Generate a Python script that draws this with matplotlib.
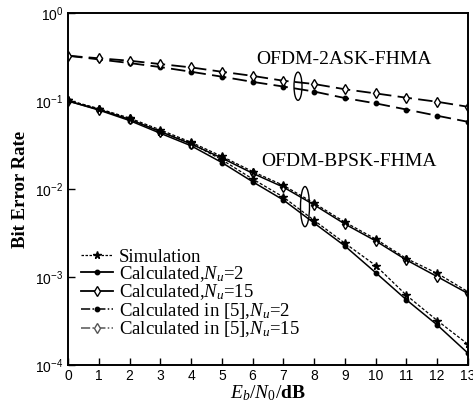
import numpy as np
import matplotlib
matplotlib.use("Agg")
import matplotlib.pyplot as plt
from matplotlib.patches import Ellipse
from matplotlib.lines import Line2D

plt.rcParams["font.family"] = "Liberation Sans"
plt.rcParams["mathtext.fontset"] = "custom"
plt.rcParams["mathtext.rm"] = "Liberation Serif"
plt.rcParams["mathtext.it"] = "Liberation Serif:italic"
plt.rcParams["mathtext.bf"] = "Liberation Serif:bold"

# Eb/N0 (dB)
snr = np.arange(0, 14)

# OFDM-BPSK-FHMA
bpsk_calc_nu2 = [0.100, 0.079, 0.060, 0.043, 0.031, 0.020, 0.0121, 0.0075, 0.0041, 0.00225, 0.00112, 0.00055, 0.000285, 0.000136]
bpsk_sim_nu2 = [0.102, 0.081, 0.062, 0.045, 0.033, 0.0215, 0.0130, 0.0081, 0.0044, 0.00242, 0.00135, 0.00062, 0.00032, 0.000172]
bpsk_calc_nu15 = [0.100, 0.080, 0.062, 0.045, 0.0325, 0.0225, 0.0151, 0.0105, 0.0066, 0.0040, 0.00257, 0.00156, 0.00101, 0.00065]
bpsk_sim_nu15 = [0.102, 0.082, 0.064, 0.047, 0.034, 0.0235, 0.0158, 0.0110, 0.0069, 0.0042, 0.00270, 0.00162, 0.00110, 0.00068]

# OFDM-2ASK-FHMA, calculated in [5]
ask_ref_nu2 = [0.327, 0.297, 0.270, 0.243, 0.215, 0.189, 0.165, 0.146, 0.128, 0.108, 0.094, 0.080, 0.068, 0.058]
ask_ref_nu15 = [0.327, 0.306, 0.287, 0.263, 0.241, 0.215, 0.193, 0.170, 0.156, 0.136, 0.122, 0.109, 0.098, 0.086]

labels = ["Simulation", "Calculated,$N_u$=2", "Calculated,$N_u$=15",
          "Calculated in [5],$N_u$=2", "Calculated in [5],$N_u$=15"]

fig = plt.figure(figsize=(4.73, 4.08), dpi=100)
ax = fig.add_axes([0.1438, 0.1054, 0.8456, 0.8627])

# 2ASK curves
ax.plot(snr, ask_ref_nu2, color="black", lw=1.3, dashes=(8, 3.5),
        marker="o", ms=3.2, mfc="black")
ax.plot(snr, ask_ref_nu15, color="black", lw=1.3, dashes=(8, 3.5),
        marker="d", ms=5.5, mfc="white", mew=1.0)

# BPSK curves
ax.plot(snr, bpsk_calc_nu2, color="black", lw=1.1,
        marker="o", ms=3.2, mfc="black")
ax.plot(snr, bpsk_calc_nu15, color="black", lw=1.1,
        marker="d", ms=5.5, mfc="white", mew=1.0)
ax.plot(snr, bpsk_sim_nu2, color="black", lw=0.9, dashes=(2.5, 1.5),
        marker="*", ms=5.5)
ax.plot(snr, bpsk_sim_nu15, color="black", lw=0.9, dashes=(2.5, 1.5),
        marker="*", ms=5.5)

# legend entries
handles = [
    Line2D([], [], color="black", lw=0.9, dashes=(2, 1.2), marker="*", ms=5.5),
    Line2D([], [], color="black", lw=1.3, marker="o", ms=3.2),
    Line2D([], [], color="black", lw=1.3, marker="d", ms=5.5, mfc="white", mew=1.0),
    Line2D([], [], color="black", lw=1.1, dashes=(6, 1.5, 1, 1.5), marker="o", ms=3.2),
    Line2D([], [], color="#555555", lw=1.1, dashes=(6, 1.5, 1, 1.5), marker="d", ms=5.5,
           mfc="white", mec="#555555", mew=1.0),
]

ax.set_yscale("log")
ax.set_xlim(0, 13)
ax.set_ylim(1e-4, 1)
ax.set_xticks(range(0, 14))
ax.set_yticks([1e-4, 1e-3, 1e-2, 1e-1, 1])
ax.minorticks_off()
ax.tick_params(direction="in", length=5, width=1, labelsize=10, top=False, right=False)
ax.tick_params(axis="x", pad=3)
for s in ax.spines.values():
    s.set_linewidth(1.4)

ax.set_xlabel(r"$E_b/N_0$/$\mathbf{dB}$", fontfamily="Liberation Serif", fontsize=14,
              labelpad=0)
ax.set_ylabel("Bit Error Rate", fontfamily="Liberation Serif", fontsize=13.5,
              fontweight="bold", labelpad=4)

# annotations
ax.text(8.97, 0.30, "OFDM-2ASK-FHMA", fontfamily="Liberation Serif",
        fontsize=14, ha="center", va="center")
ax.text(9.13, 0.0204, "OFDM-BPSK-FHMA", fontfamily="Liberation Serif",
        fontsize=14, ha="center", va="center")
ax.add_patch(Ellipse((0.575, 0.792), 0.02, 0.08, transform=ax.transAxes,
                     fill=False, color="black", lw=1.0))
ax.add_patch(Ellipse((0.5925, 0.45), 0.0225, 0.114, transform=ax.transAxes,
                     fill=False, color="black", lw=1.0))

ax.legend(handles=handles, labels=labels, loc="lower left",
          bbox_to_anchor=(0.0, 0.036), frameon=False,
          prop={"family": "Liberation Serif", "size": 13.5},
          handlelength=1.7, handletextpad=0.3, labelspacing=-0.08,
          borderaxespad=0.3)

fig.savefig("out.png", dpi=100)
